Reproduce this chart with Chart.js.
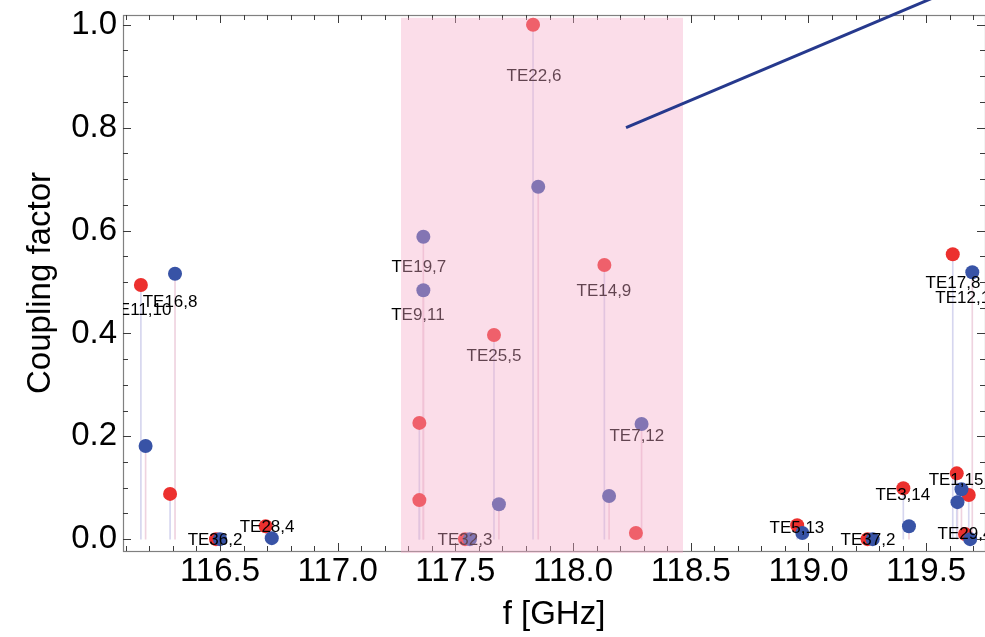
<!DOCTYPE html>
<html>
<head>
<meta charset="utf-8">
<script src="https://cdn.jsdelivr.net/npm/chart.js@4.4.1/dist/chart.umd.min.js"></script>
<style>
  html, body { margin: 0; padding: 0; background: #fff; }
  #wrap { width: 985px; height: 637px; }
</style>
</head>
<body>
<div id="wrap"><canvas id="myChart" width="985" height="637"></canvas></div>
<script>
// red modes (f in GHz, coupling factor)
const redFreq = [116.164, 116.288, 116.483, 116.694, 117.830, 117.347, 117.347, 117.664, 118.133,
  118.267, 117.541, 118.952, 119.251, 119.403, 119.613, 119.630, 119.681, 119.665];
const redCoupling = [0.494, 0.088, 0.0, 0.025, 1.0, 0.226, 0.076, 0.397, 0.533,
  0.012, 0.0, 0.027, 0.0, 0.099, 0.554, 0.128, 0.086, 0.010];

// blue modes
const blueFreq = [116.184, 116.309, 116.500, 116.720, 117.852, 117.364, 117.364, 117.685, 118.153,
  118.291, 117.562, 118.974, 119.273, 119.427, 119.696, 119.650, 119.633, 119.687];
const blueCoupling = [0.181, 0.516, 0.0, 0.002, 0.685, 0.588, 0.484, 0.068, 0.084,
  0.224, 0.0, 0.012, 0.0, 0.025, 0.519, 0.097, 0.072, 0.0];

// mode labels
const labelText = ["TE11,10", "TE16,8", "TE36,2", "TE28,4", "TE22,6", "TE19,7", "TE9,11", "TE25,5",
  "TE14,9", "TE7,12", "TE32,3", "TE5,13", "TE37,2", "TE3,14", "TE17,8", "TE12,11", "TE1,15", "TE29,4"];
const labelFreq = [116.160, 116.288, 116.479, 116.700, 117.834, 117.345, 117.341, 117.664,
  118.131, 118.271, 117.541, 118.951, 119.253, 119.401, 119.614, 119.673, 119.627, 119.665];
const labelCoupling = [0.444, 0.461, -0.002, 0.023, 0.899, 0.529, 0.436, 0.356,
  0.481, 0.200, -0.002, 0.021, -0.002, 0.086, 0.498, 0.469, 0.115, 0.010];

// straight line (pointer)
const lineFreq = [118.225, 119.75];
const lineCoupling = [0.80, 1.095];

// shaded band
const bandFreq = [117.269, 118.467];
const bandCoupling = [-0.027, 1.0136];

const xRange = [116.088, 119.75];
const yRange = [-0.023, 1.019];

const FONT = "'Liberation Sans', Arial, Helvetica, sans-serif";

function toPoints(xs, ys) {
  return xs.map((x, i) => ({ x: x, y: ys[i] }));
}

function drawFrame(chart) {
  const { ctx, chartArea: a, scales: { x, y } } = chart;
  ctx.save();
  ctx.strokeStyle = "#808080";
  ctx.lineWidth = 1.2;
  ctx.strokeRect(a.left + 0.5, a.top + 0.5, a.right - a.left, a.bottom - a.top);

  ctx.strokeStyle = "#3c3c3c";
  ctx.lineWidth = 1;
  ctx.beginPath();
  for (let i = 1161; i <= 1197; i++) {
    const px = Math.round(x.getPixelForValue(i / 10)) + 0.5;
    if (px < a.left || px > a.right) continue;
    const len = i % 5 === 0 ? 8 : 5;
    ctx.moveTo(px, a.bottom);
    ctx.lineTo(px, a.bottom - len);
    ctx.moveTo(px, a.top);
    ctx.lineTo(px, a.top + len);
  }
  for (let i = 0; i <= 20; i++) {
    const py = Math.round(y.getPixelForValue(i * 0.05)) + 0.5;
    const len = i % 4 === 0 ? 8 : 5;
    ctx.moveTo(a.left, py);
    ctx.lineTo(a.left + len, py);
    ctx.moveTo(a.right, py);
    ctx.lineTo(a.right - len, py);
  }
  ctx.stroke();
  ctx.restore();
}

function drawLabels(chart) {
  const { ctx, chartArea: a, scales: { x, y } } = chart;
  ctx.save();
  ctx.beginPath();
  ctx.rect(a.left, a.top, a.right - a.left, a.bottom - a.top);
  ctx.clip();
  ctx.font = "17px " + FONT;
  ctx.fillStyle = "#000";
  ctx.textAlign = "center";
  ctx.textBaseline = "middle";
  labelText.forEach((t, i) => {
    ctx.fillText(t, x.getPixelForValue(labelFreq[i]), y.getPixelForValue(labelCoupling[i]));
  });
  ctx.restore();
}

function drawBand(chart) {
  const { ctx, scales: { x, y } } = chart;
  const x0 = x.getPixelForValue(bandFreq[0]);
  const x1 = x.getPixelForValue(bandFreq[1]);
  const y0 = y.getPixelForValue(bandCoupling[1]);
  const y1 = y.getPixelForValue(bandCoupling[0]);
  ctx.save();
  ctx.fillStyle = "rgba(245, 170, 200, 0.4)";
  ctx.fillRect(x0, y0, x1 - x0, y1 - y0);
  ctx.restore();
}

// frame, labels and the pink band go under the pointer line
const overlayPlugin = {
  id: "overlay",
  beforeDatasetDraw(chart, args) {
    if (args.index !== 0) return;
    drawFrame(chart);
    drawLabels(chart);
    drawBand(chart);
  },
};

const ctx = document.getElementById("myChart");

new Chart(ctx, {
  type: "scatter",
  data: {
    datasets: [
      {
        type: "line",
        data: toPoints(lineFreq, lineCoupling),
        borderColor: "#26398d",
        borderWidth: 3,
        pointRadius: 0,
        showLine: true,
        clip: false,
        order: 0,
      },
      {
        data: toPoints(blueFreq, blueCoupling),
        backgroundColor: "#3853a6",
        pointRadius: 7,
        borderWidth: 0,
        order: 1,
      },
      {
        data: toPoints(redFreq, redCoupling),
        backgroundColor: "#ec302e",
        pointRadius: 7,
        borderWidth: 0,
        order: 2,
      },
      {
        type: "bar",
        data: toPoints(redFreq, redCoupling),
        backgroundColor: "#d6d6ef",
        barThickness: 1,
        grouped: false,
        order: 3,
      },
      {
        type: "bar",
        data: toPoints(blueFreq, blueCoupling),
        backgroundColor: "#efd3df",
        barThickness: 1,
        grouped: false,
        order: 4,
      },
    ],
  },
  options: {
    responsive: false,
    animation: false,
    layout: { autoPadding: false, padding: { top: 15, right: 0, left: 0, bottom: 0 } },
    plugins: { legend: { display: false }, tooltip: { enabled: false } },
    scales: {
      x: {
        type: "linear",
        min: xRange[0],
        max: xRange[1],
        offset: false,
        grid: { display: false, drawTicks: false },
        border: { display: false },
        ticks: {
          stepSize: 0.5,
          includeBounds: false,
          autoSkip: false,
          maxRotation: 0,
          padding: 1,
          color: "#000",
          font: { family: FONT, size: 33 },
          callback: (v) => Number(v).toFixed(1),
        },
        title: {
          display: true,
          text: "f [GHz]",
          color: "#000",
          font: { family: FONT, size: 33 },
          padding: { top: 0, bottom: 2 },
        },
        afterFit: (s) => {
          s.height = 86;
          s.paddingLeft = 0;
          s.paddingRight = 0;
        },
      },
      y: {
        min: yRange[0],
        max: yRange[1],
        grid: { display: false, drawTicks: false },
        border: { display: false },
        ticks: {
          stepSize: 0.2,
          includeBounds: false,
          padding: 6,
          color: "#000",
          font: { family: FONT, size: 33 },
          callback: (v) => Number(v).toFixed(1),
        },
        title: {
          display: true,
          text: "Coupling factor",
          color: "#000",
          font: { family: FONT, size: 33 },
          padding: { top: 21, bottom: 0 },
        },
        afterFit: (s) => {
          s.width = 123;
          s.paddingTop = 0;
          s.paddingBottom = 0;
        },
      },
    },
  },
  plugins: [overlayPlugin],
});
</script>
</body>
</html>
